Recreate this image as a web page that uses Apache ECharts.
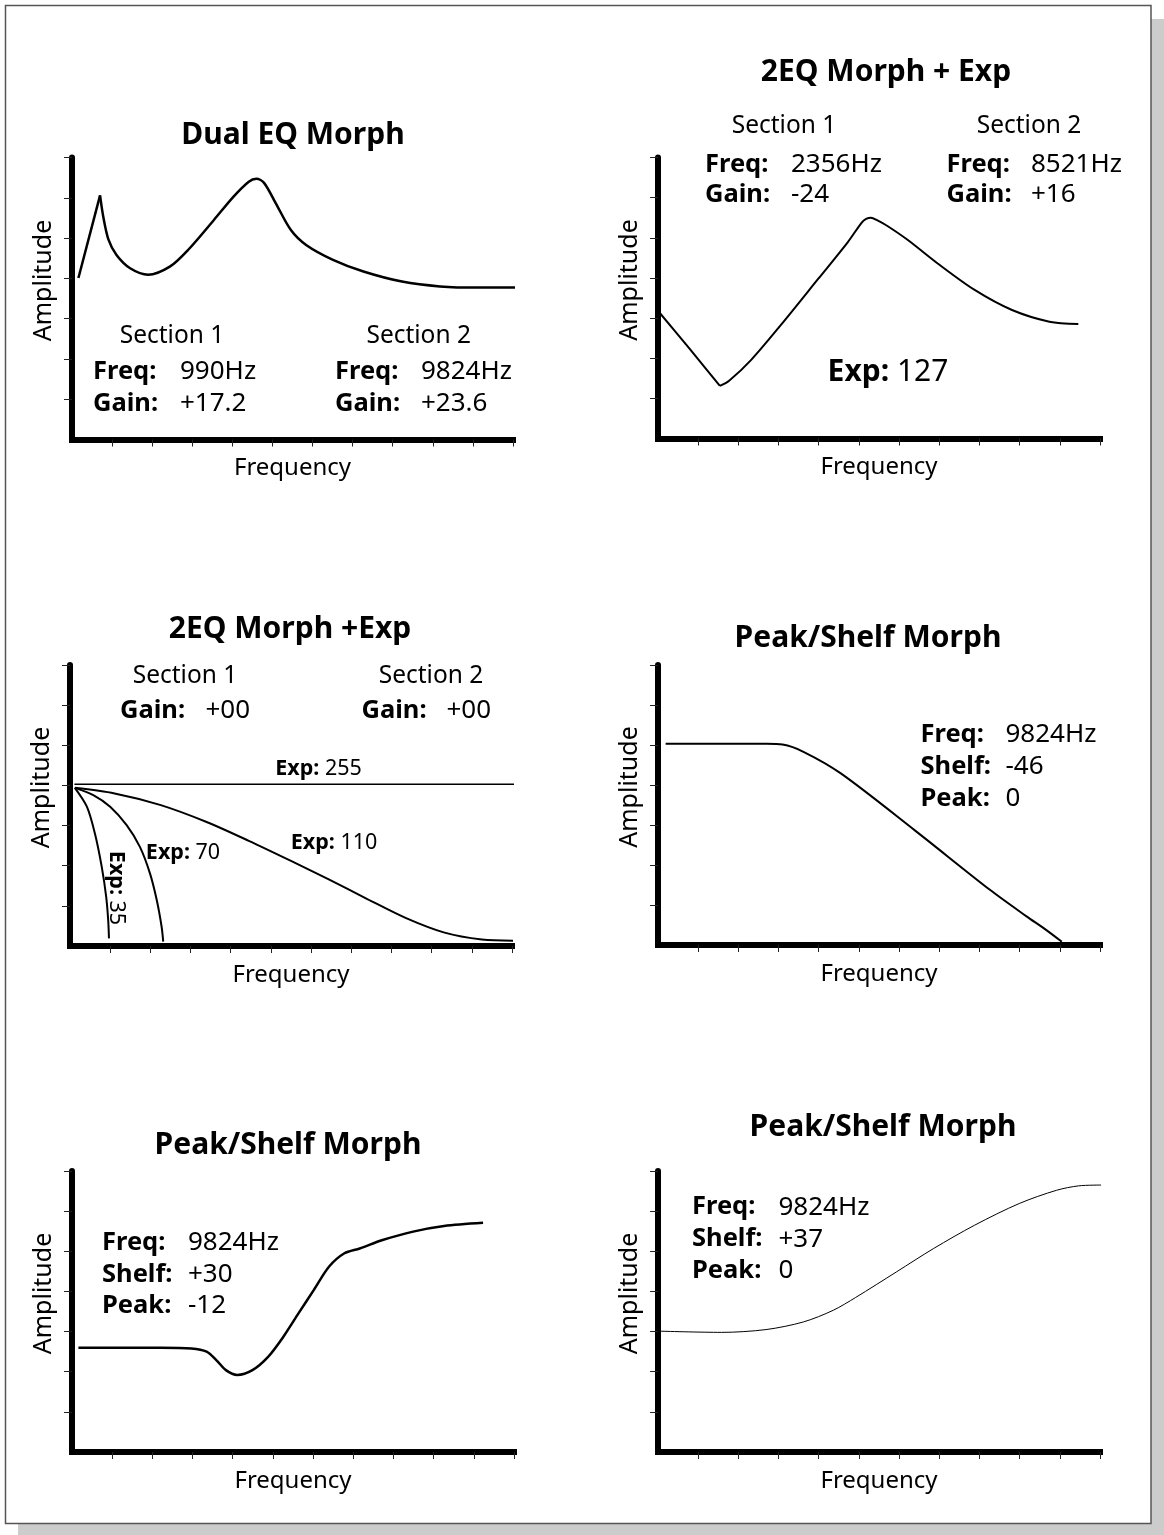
<!DOCTYPE html>
<html><head><meta charset="utf-8">
<script src="https://cdn.jsdelivr.net/npm/echarts/dist/echarts.min.js"></script>
<style>html,body{margin:0;padding:0;background:#fff}#c{width:1164px;height:1535px}</style>
</head><body><div id="c"></div>
<script>
const FONT = "'Noto Sans','Open Sans',sans-serif";

// ---- tick values (labels hidden in the original) ----
const xTickValues = [1,2,3,4,5,6,7,8,9,10,11];
const yTickValues = [1,2,3,4,5,6,7];

// ---- Panel 1: Dual EQ Morph ----
const dualEqRise = [[0.16,4.01],[0.70,6.06]];
const dualEqFall = [[0.70,6.06],[0.78,5.53],[0.91,4.96],[1.11,4.58],[1.45,4.25],[1.90,4.09],[2.44,4.29],[2.90,4.71],[3.54,5.45],[4.03,6.03],[4.41,6.40],[4.60,6.47],[4.79,6.37],[5.08,5.87],[5.46,5.20],[5.84,4.83],[6.51,4.46],[7.27,4.17],[8.23,3.92],[9.18,3.80],[10.14,3.77],[11.45,3.77]];

// ---- Panel 2: 2EQ Morph + Exp (Exp 127) ----
const exp127Fall = [[0.05,3.12],[0.80,2.22],[1.54,1.31]];
const exp127Rise = [[1.54,1.31],[1.77,1.44],[2.32,1.96],[3.06,2.83],[3.99,3.98],[4.73,4.90],[5.07,5.38],[5.18,5.47],[5.30,5.50],[5.45,5.44],[5.70,5.30],[6.21,4.95],[6.96,4.36],[7.88,3.70],[8.81,3.20],[9.74,2.91],[10.46,2.85]];

// ---- Panel 3: 2EQ Morph +Exp (family of Exp curves) ----
const exp255 = [[0.11,4.03],[11.11,4.03]];
const exp110 = [[0.12,3.94],[1.11,3.80],[2.26,3.51],[3.40,3.09],[4.45,2.62],[5.50,2.12],[6.44,1.66],[7.40,1.17],[8.35,0.70],[9.30,0.34],[10.25,0.16],[11.06,0.13]];
const exp70 = [[0.12,3.94],[0.58,3.76],[1.00,3.47],[1.41,3.01],[1.74,2.47],[1.99,1.81],[2.16,1.14],[2.28,0.48],[2.32,0.11]];
const exp35 = [[0.12,3.94],[0.42,3.47],[0.62,2.80],[0.79,1.97],[0.90,1.23],[0.95,0.65],[0.97,0.19]];

// ---- Panel 4: Peak/Shelf Morph (Shelf -46) ----
const shelfCut = [[0.19,5.03],[2.7,5.03],[3.10,5.01],[3.62,4.83],[4.55,4.29],[6.40,2.86],[8.26,1.38],[9.18,0.71],[9.64,0.39],[10.05,0.08]];

// ---- Panel 5: Peak/Shelf Morph (Shelf +30, Peak -12) ----
const shelfBoostPeakCut = [[0.16,2.60],[2.2,2.60],[2.97,2.58],[3.35,2.50],[3.59,2.29],[3.83,2.04],[4.11,1.92],[4.49,2.04],[4.88,2.37],[5.26,2.87],[5.64,3.46],[6.02,4.04],[6.40,4.62],[6.78,4.95],[7.16,5.07],[7.73,5.28],[8.49,5.49],[9.26,5.63],[10.23,5.71]];

// ---- Panel 6: Peak/Shelf Morph (Shelf +37) ----
const shelfBoost = [[0.05,3.01],[1.58,2.98],[2.69,3.05],[3.62,3.24],[4.36,3.53],[4.92,3.85],[5.94,4.49],[6.86,5.07],[7.88,5.65],[8.99,6.19],[9.92,6.52],[10.47,6.63],[11.06,6.65]];

// ---- layout ----
const grids = [
  {left:72,  top:157.5, width:441, height:282},
  {left:658, top:157.5, width:442, height:281},
  {left:70,  top:665,   width:442, height:281},
  {left:658, top:665,   width:442, height:280},
  {left:72,  top:1171,  width:442, height:281},
  {left:658, top:1171,  width:442, height:281}
];

function xAx(i){
  return {gridIndex:i, type:'value', min:0, max:11, interval:1,
    axisLine:{show:true, onZero:false, lineStyle:{color:'#000', width:6, cap:'square'}},
    axisTick:{show:true, length:7, customValues:xTickValues, lineStyle:{color:'#222', width:1}},
    axisLabel:{show:false}, splitLine:{show:false},
    name:'Frequency', nameLocation:'middle', nameGap:17,
    nameTextStyle:{fontFamily:FONT, fontSize:24, color:'#000'}};
}
function yAx(i){
  return {gridIndex:i, type:'value', min:0, max:7, interval:1,
    axisLine:{show:true, onZero:false, lineStyle:{color:'#000', width:6}},
    axisTick:{show:true, length:8, customValues:yTickValues, lineStyle:{color:'#222', width:1}},
    axisLabel:{show:false}, splitLine:{show:false},
    name:'Amplitude', nameLocation:'middle', nameGap:16,
    nameTextStyle:{fontFamily:FONT, fontSize:25, color:'#000', padding:[0,0,0,36]}};
}
function ln(i, data, width, smooth){
  return {type:'line', xAxisIndex:i, yAxisIndex:i, data:data,
    smooth: smooth===undefined ? 0.3 : smooth, symbol:'none', showSymbol:false,
    lineStyle:{color:'#000', width:width}, silent:true, clip:false, animation:false};
}

function txt(x, y, s, size, bold, align, extra){
  const o = {type:'text', x:x, y:y, z:20, silent:true,
    style:{text:s, fill:'#000', fontFamily:FONT, fontSize:size, fontWeight:bold?'bold':'normal',
      textAlign:align||'center', align:align||'center', textVerticalAlign:'middle', verticalAlign:'middle'}};
  if (extra) Object.assign(o, extra);
  return o;
}
function richTxt(x, y, s, size, extra){
  const o = {type:'text', x:x, y:y, z:20, silent:true,
    style:{text:s, fill:'#000', fontFamily:FONT, fontSize:size,
      textAlign:'center', align:'center', textVerticalAlign:'middle', verticalAlign:'middle',
      rich:{b:{fontWeight:'bold', fontFamily:FONT, fontSize:size, fill:'#000'},
            n:{fontWeight:'normal', fontFamily:FONT, fontSize:size, fill:'#000'}}}};
  if (extra) Object.assign(o, extra);
  return o;
}
function pair(xl, xv, y, label, val){
  return [txt(xl, y, label, 25.5, true, 'left'), txt(xv, y, val, 26, false, 'left')];
}

const texts = [
  // titles
  txt(293, 135.5, 'Dual EQ Morph', 30, true),
  txt(886, 72, '2EQ Morph + Exp', 30, true),
  txt(290, 629, '2EQ Morph +Exp', 30, true),
  txt(868, 638, 'Peak/Shelf Morph', 30, true),
  txt(288, 1145.5, 'Peak/Shelf Morph', 30, true),
  txt(883, 1127.5, 'Peak/Shelf Morph', 30, true),
  // panel 1
  txt(172, 335.7, 'Section 1', 24.5, false),
  txt(418.7, 335.7, 'Section 2', 24.5, false),
  ...pair(93, 180, 372, 'Freq:', '990Hz'),
  ...pair(93, 180, 404, 'Gain:', '+17.2'),
  ...pair(335, 421, 372, 'Freq:', '9824Hz'),
  ...pair(335, 421, 404, 'Gain:', '+23.6'),
  // panel 2
  txt(784, 126.5, 'Section 1', 24.5, false),
  txt(1029, 126.5, 'Section 2', 24.5, false),
  ...pair(705, 791, 164.5, 'Freq:', '2356Hz'),
  ...pair(705, 791, 195, 'Gain:', '-24'),
  ...pair(946.5, 1031, 164.5, 'Freq:', '8521Hz'),
  ...pair(946.5, 1031, 195, 'Gain:', '+16'),
  richTxt(888, 372, '{b|Exp:}{n| 127}', 30),
  // panel 3
  txt(185, 675.7, 'Section 1', 24.5, false),
  txt(431, 675.7, 'Section 2', 24.5, false),
  ...pair(120, 205.5, 710.7, 'Gain:', '+00'),
  ...pair(361.5, 446.5, 710.7, 'Gain:', '+00'),
  richTxt(318.6, 768.4, '{b|Exp:}{n| 255}', 21.5),
  richTxt(334, 842.4, '{b|Exp:}{n| 110}', 21.5),
  richTxt(183, 852.4, '{b|Exp:}{n| 70}', 21.5),
  richTxt(116, 888, '{b|Exp:}{n| 35}', 21.5, {rotation:-Math.PI/2}),
  // panel 4
  ...pair(920.5, 1005.5, 735, 'Freq:', '9824Hz'),
  ...pair(920.5, 1005.5, 766.4, 'Shelf:', '-46'),
  ...pair(920.5, 1005.5, 798.4, 'Peak:', '0'),
  // panel 5
  ...pair(102, 188, 1242.7, 'Freq:', '9824Hz'),
  ...pair(102, 188, 1274.4, 'Shelf:', '+30'),
  ...pair(102, 188, 1306, 'Peak:', '-12'),
  // panel 6
  ...pair(692, 778.5, 1207.2, 'Freq:', '9824Hz'),
  ...pair(692, 778.5, 1239.2, 'Shelf:', '+37'),
  ...pair(692, 778.5, 1270.9, 'Peak:', '0')
];

const frame = [
  {type:'rect', z:-10, silent:true, shape:{x:18, y:19, width:1146, height:1516}, style:{fill:'#cccccc'}},
  {type:'rect', z:-9, silent:true, shape:{x:5.5, y:5.5, width:1145.5, height:1518}, style:{fill:'#ffffff', stroke:'#555', lineWidth:1.5}}
];

const option = {
  animation:false,
  backgroundColor:'#ffffff',
  grid: grids,
  xAxis: [0,1,2,3,4,5].map(xAx),
  yAxis: [0,1,2,3,4,5].map(yAx),
  series: [
    ln(0, dualEqRise, 2.5, false),
    ln(0, dualEqFall, 2.5),
    ln(1, exp127Fall, 2, 0.2),
    ln(1, exp127Rise, 2),
    ln(2, exp255, 1.6, false),
    ln(2, exp110, 2),
    ln(2, exp70, 2),
    ln(2, exp35, 2),
    ln(3, shelfCut, 2),
    ln(4, shelfBoostPeakCut, 2.5),
    ln(5, shelfBoost, 1)
  ],
  graphic: {elements: frame.concat(texts)}
};

const chart = echarts.init(document.getElementById('c'), null, {renderer:'canvas'});
chart.setOption(option);
</script>
</body></html>
